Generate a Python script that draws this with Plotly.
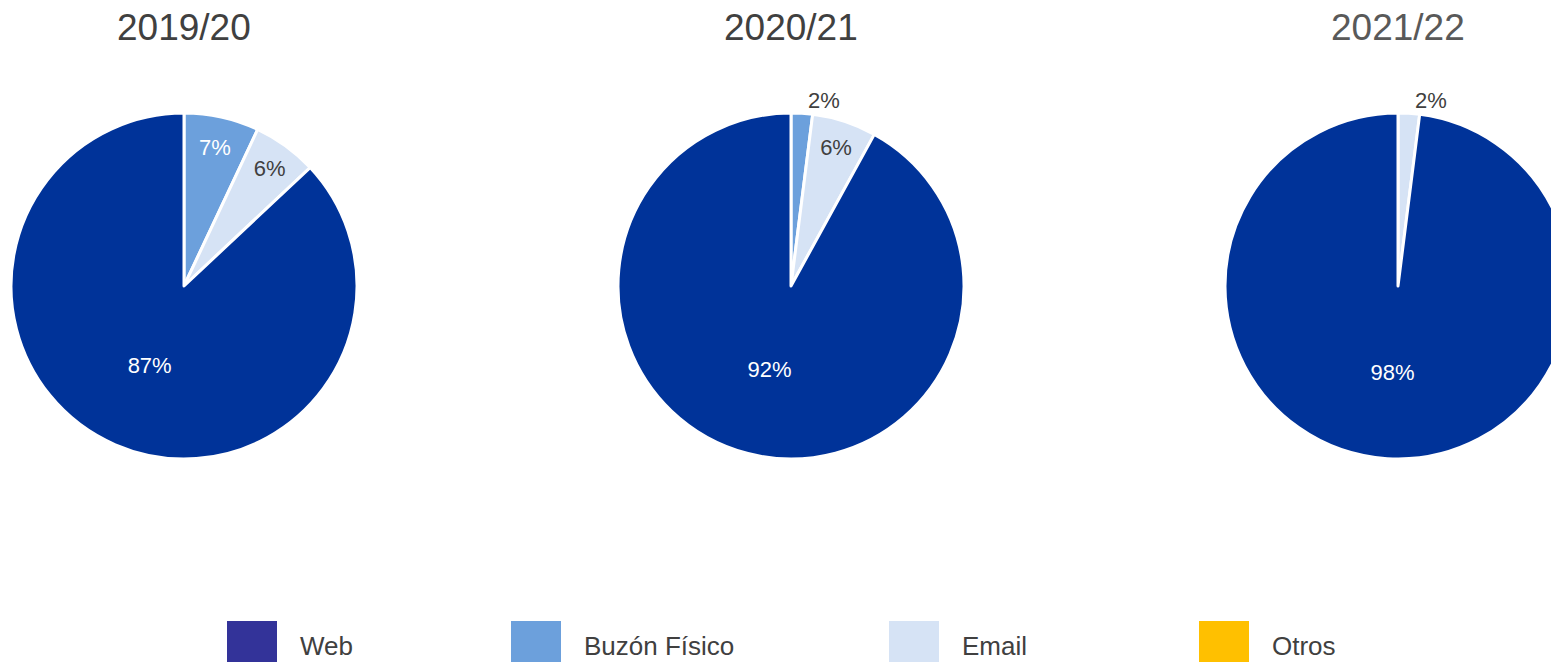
import plotly.graph_objects as go

# ---- data ----
years = ["2019/20", "2020/21", "2021/22"]
categories = ["Buzón Físico", "Email", "Otros", "Web"]
values_2019_20 = [7, 6, 0, 87]
values_2020_21 = [2, 6, 0, 92]
values_2021_22 = [0, 2, 0, 98]
legend_order = ["Web", "Buzón Físico", "Email", "Otros"]

# ---- styles ----
slice_colors = {"Web": "#003399", "Buzón Físico": "#6CA0DC", "Email": "#D6E3F5", "Otros": "#FFC000"}
legend_colors = {"Web": "#333399", "Buzón Físico": "#6CA0DC", "Email": "#D6E3F5", "Otros": "#FFC000"}
label_colors = {"Web": "#FFFFFF", "Buzón Físico": "#FFFFFF", "Email": "#404040", "Otros": "#404040"}
title_colors = ["#404040", "#404040", "#595959"]
FONT = "Liberation Sans, Arial, sans-serif"

W, H = 1600, 662
OFF = 8  # page body margin
centers_px = [184, 791, 1398]
cy_px, r_px = 286, 173
legend_x_px = [227, 511, 889, 1199]


def px_x(x):
    return (x - OFF) / W


def px_y(y):
    return (H - (y - OFF)) / H


fig = go.Figure()
all_values = [values_2019_20, values_2020_21, values_2021_22]
for i, (year, vals, cx) in enumerate(zip(years, all_values, centers_px)):
    labs = [c for c, v in zip(categories, vals) if v > 0]
    vs = [v for v in vals if v > 0]
    fig.add_trace(go.Pie(
        labels=labs,
        values=vs,
        sort=False,
        direction="clockwise",
        rotation=0,
        marker=dict(colors=[slice_colors[l] for l in labs], line=dict(color="white", width=3)),
        texttemplate="%{percent:.0%}",
        textposition=["outside" if v <= 3 else "inside" for v in vs],
        insidetextorientation="horizontal",
        insidetextfont=dict(family=FONT, size=22, color=[label_colors[l] for l in labs]),
        outsidetextfont=dict(family=FONT, size=22, color="#404040"),
        domain=dict(x=[px_x(cx - r_px), px_x(cx + r_px)],
                    y=[px_y(cy_px + r_px), px_y(cy_px - r_px)]),
        showlegend=False,
        hoverinfo="label+percent",
        name=year,
    ))
    fig.add_annotation(text=year, x=px_x(cx), y=px_y(28), xref="paper", yref="paper",
                       xanchor="center", yanchor="middle", showarrow=False,
                       font=dict(family=FONT, size=37, color=title_colors[i]))

# custom legend
for lab, lx in zip(legend_order, legend_x_px):
    fig.add_shape(type="rect", xref="paper", yref="paper",
                  x0=px_x(lx), x1=px_x(lx + 50), y0=px_y(621), y1=px_y(680),
                  fillcolor=legend_colors[lab], line=dict(width=0))
    fig.add_annotation(text=lab, x=px_x(lx + 71), y=px_y(646), xref="paper", yref="paper",
                       xanchor="left", yanchor="middle", showarrow=False,
                       font=dict(family=FONT, size=26, color="#404040"))

fig.update_layout(
    width=W, height=H,
    margin=dict(l=0, r=0, t=0, b=0),
    paper_bgcolor="white",
    plot_bgcolor="white",
    font=dict(family=FONT, color="#404040"),
)

fig.write_html("out.html")
